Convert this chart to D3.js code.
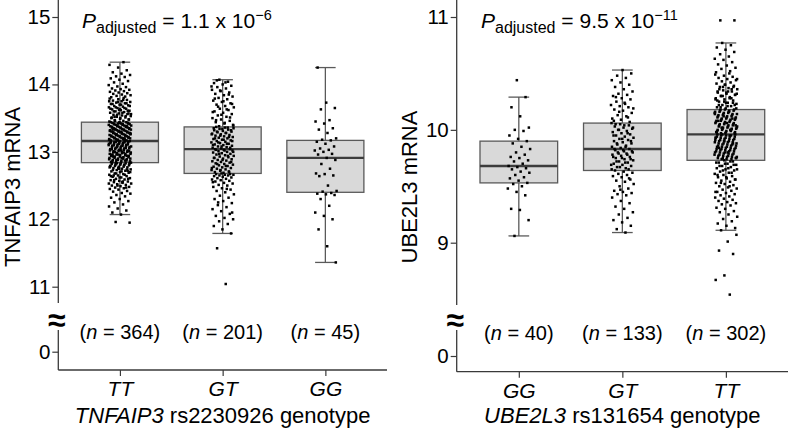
<!DOCTYPE html>
<html><head><meta charset="utf-8">
<script src="https://cdn.jsdelivr.net/npm/d3@7/dist/d3.min.js"></script>
<style>
body{margin:0;background:#fff}
svg{display:block}
text{font-family:"Liberation Sans",Arial,Helvetica,sans-serif;fill:#000}
</style>
</head><body>
<svg id="chart" width="788" height="430"></svg>
<script>
// ---------------- DATA ----------------
const leftCategories = ["TT", "GT", "GG"];
const leftCounts = [364, 201, 45];
const leftWhiskerLow = [12.07, 11.79, 11.36];
const leftQ1 = [12.84, 12.68, 12.40];
const leftMedian = [13.16, 13.04, 12.91];
const leftQ3 = [13.44, 13.37, 13.17];
const leftWhiskerHigh = [14.33, 14.07, 14.25];
const leftTicks = [11, 12, 13, 14, 15];
const leftPValue = ["1.1", "\u22126"];

const rightCategories = ["GG", "GT", "TT"];
const rightCounts = [40, 133, 302];
const rightWhiskerLow = [9.06, 9.09, 9.11];
const rightQ1 = [9.53, 9.64, 9.73];
const rightMedian = [9.68, 9.83, 9.96];
const rightQ3 = [9.90, 10.06, 10.18];
const rightWhiskerHigh = [10.29, 10.53, 10.77];
const rightTicks = [9, 10, 11];
const rightPValue = ["9.5", "\u221211"];

const leftTT = [
11.96,11.95,12.07,12.10,12.13,12.16,12.19,12.22,12.25,12.27,12.30,12.32,12.34,12.36,12.38,12.39,12.41,12.42,12.44,12.45,
12.46,12.47,12.48,12.49,12.50,12.51,12.52,12.53,12.54,12.55,12.56,12.57,12.58,12.59,12.60,12.61,12.62,12.63,12.64,12.65,
12.66,12.67,12.68,12.69,12.70,12.71,12.72,12.73,12.74,12.75,12.76,12.77,12.78,12.79,12.80,12.81,12.82,12.83,12.84,
12.47,12.50,12.53,12.56,12.58,12.60,12.62,12.64,12.66,12.68,12.70,12.71,12.73,12.74,12.76,12.77,12.78,12.79,12.80,12.81,
12.82,12.83,12.83,12.84,12.55,12.65,12.72,12.75,12.79,12.81,12.83,12.84,
12.85,12.86,12.87,12.88,12.89,12.90,12.91,12.92,12.93,12.94,12.95,12.96,12.97,12.98,12.99,13.00,13.01,13.02,13.03,13.04,
13.05,13.06,13.07,13.08,13.09,13.10,13.11,13.12,13.13,13.14,13.15,13.16,
12.85,12.86,12.87,12.88,12.89,12.90,12.91,12.92,12.93,12.94,12.95,12.96,12.97,12.98,12.99,13.00,13.01,13.02,13.03,13.04,
13.05,13.06,13.07,13.08,13.09,13.10,13.11,13.12,13.13,13.14,13.15,13.16,
12.85,12.87,12.88,12.90,12.91,12.93,12.94,12.96,12.97,12.99,13.00,13.01,13.03,13.04,13.06,13.07,13.08,13.09,13.10,13.11,
13.12,13.13,13.14,13.15,13.16,13.02,12.95,
13.17,13.18,13.19,13.20,13.21,13.22,13.23,13.24,13.25,13.26,13.27,13.28,13.29,13.30,13.31,13.32,13.33,13.34,13.35,13.36,
13.37,13.38,13.39,13.40,13.41,13.42,13.43,13.44,
13.17,13.18,13.19,13.20,13.21,13.22,13.23,13.24,13.25,13.26,13.27,13.28,13.29,13.30,13.31,13.32,13.33,13.34,13.35,13.36,
13.37,13.38,13.39,13.40,13.41,13.42,13.43,13.44,
13.17,13.18,13.19,13.20,13.21,13.22,13.23,13.24,13.25,13.26,13.27,13.28,13.29,13.30,13.31,13.32,13.33,13.34,13.35,13.36,
13.37,13.38,13.39,13.40,13.41,13.42,13.43,13.44,
13.20,13.25,13.28,13.30,13.33,13.38,13.42,
13.45,13.46,13.47,13.48,13.49,13.50,13.51,13.52,13.53,13.54,13.55,13.56,13.57,13.58,13.59,13.60,13.61,13.62,13.63,13.64,
13.65,13.66,13.67,13.68,13.69,13.70,13.71,13.72,13.73,13.74,13.75,13.76,13.77,13.78,13.79,13.80,
13.46,13.48,13.50,13.51,13.53,13.55,13.56,13.58,13.60,13.61,13.62,13.64,13.65,13.66,13.68,13.70,13.71,13.72,13.74,13.75,
13.77,13.52,13.57,13.63,
13.81,13.82,13.83,13.84,13.85,13.86,13.87,13.88,13.89,13.90,13.91,13.92,13.93,13.94,13.96,13.97,13.99,
14.01,14.03,14.05,14.07,14.09,14.11,14.12,14.14,14.16,14.18,14.21,14.25,14.29,14.33
];

const leftGT = [
11.04,11.57,11.79,11.85,11.90,11.93,11.97,12.00,12.02,12.05,12.08,12.12,12.15,12.18,12.21,12.24,12.27,12.30,12.32,12.35,
12.37,12.40,12.42,12.44,12.46,12.48,12.50,12.51,12.53,12.54,12.56,12.57,12.58,12.59,12.60,12.61,12.62,12.63,12.64,12.65,
12.65,12.66,12.66,12.67,12.67,12.68,12.55,12.45,12.25,12.10,
12.69,12.70,12.71,12.72,12.73,12.74,12.75,12.76,12.77,12.78,12.79,12.80,12.81,12.82,12.83,12.84,12.85,12.86,12.87,12.88,
12.89,12.90,12.91,12.92,12.93,12.94,12.95,12.96,12.97,12.98,12.99,13.00,13.01,13.02,13.03,13.04,
12.70,12.73,12.76,12.79,12.82,12.85,12.88,12.91,12.94,12.97,13.00,13.02,13.03,13.04,
13.05,13.06,13.07,13.08,13.09,13.10,13.11,13.12,13.13,13.14,13.15,13.16,13.17,13.18,13.19,13.20,13.21,13.22,13.23,13.24,
13.25,13.26,13.27,13.28,13.29,13.30,13.31,13.32,13.33,13.34,13.35,13.36,13.37,
13.06,13.08,13.10,13.12,13.14,13.16,13.18,13.20,13.22,13.24,13.26,13.28,13.30,13.32,13.34,13.35,13.36,
13.38,13.40,13.42,13.44,13.46,13.48,13.50,13.52,13.54,13.56,13.58,13.60,13.62,13.64,13.66,13.68,13.70,13.72,13.74,13.76,
13.78,13.80,13.82,13.84,13.86,13.88,13.90,13.92,13.94,13.96,13.98,14.00,14.02,14.04,14.07,
13.39,13.43,13.47,13.51,13.55,13.59,13.63,13.67,13.71,13.75,13.79,13.85,13.91,13.97,14.03,14.06
];

const leftGG = [
11.36,11.60,11.85,12.00,12.05,12.10,12.20,12.30,12.36,12.37,12.38,12.39,
12.41,12.42,12.50,12.64,12.65,12.67,12.68,12.75,12.82,12.88,12.91,
12.96,12.97,13.00,13.02,13.03,13.05,13.08,13.12,13.15,13.17,13.18,
13.20,13.28,13.33,13.35,13.42,13.45,13.47,13.63,13.65,13.73,14.25
];

const rightGG = [
9.06,9.20,9.29,9.30,9.42,9.45,9.48,9.50,9.52,9.53,
9.55,9.57,9.58,9.60,9.62,9.63,9.65,9.66,9.67,9.68,
9.70,9.72,9.73,9.75,9.76,9.78,9.80,9.83,9.85,9.88,
9.90,9.92,9.95,9.99,10.00,10.02,10.12,10.20,10.29,10.44
];

const rightGT = [
9.09,9.12,9.15,9.18,9.20,9.22,9.25,9.27,9.30,9.32,9.35,9.37,9.40,9.42,9.43,9.44,9.45,9.46,9.48,9.50,
9.52,9.54,9.55,9.56,9.58,9.59,9.60,9.61,9.62,9.63,9.64,9.57,9.47,
9.65,9.66,9.67,9.68,9.69,9.70,9.71,9.72,9.73,9.74,9.75,9.76,9.77,9.78,9.79,9.80,9.81,9.82,9.83,
9.65,9.67,9.69,9.71,9.72,9.74,9.75,9.76,9.78,9.79,9.80,9.81,9.82,9.83,
9.84,9.85,9.86,9.87,9.88,9.89,9.90,9.91,9.92,9.93,9.94,9.95,9.96,9.97,9.98,9.99,10.00,10.01,10.02,10.03,
10.04,10.05,10.06,
9.85,9.88,9.90,9.92,9.95,9.97,10.00,10.02,10.04,10.05,
10.07,10.09,10.10,10.12,10.13,10.15,10.17,10.18,10.20,10.21,10.22,10.23,10.25,10.27,10.28,10.30,10.31,10.32,10.34,10.36,
10.38,10.40,10.42,10.44,10.46,10.48,10.50,10.53,10.08,10.11,10.16,10.19,10.24,10.29
];

const rightTT = [
9.07,9.01,8.93,8.90,8.71,8.67,8.54,
9.11,9.13,9.15,9.17,9.19,9.21,9.23,9.25,9.27,9.28,9.30,9.31,9.33,9.34,9.35,9.36,9.37,9.38,9.39,9.40,
9.41,9.42,9.43,9.44,9.45,9.46,9.47,9.48,9.49,9.50,9.51,9.52,9.53,9.54,9.55,9.56,9.57,9.58,9.59,9.60,
9.61,9.62,9.63,9.64,9.65,9.66,9.67,9.68,9.69,9.70,9.71,9.72,9.73,
9.45,9.50,9.53,9.56,9.58,9.60,9.62,9.64,9.65,9.66,9.68,9.69,9.70,9.71,9.72,
9.74,9.75,9.76,9.77,9.78,9.79,9.80,9.81,9.82,9.83,9.84,9.85,9.86,9.87,9.88,9.89,9.90,9.91,9.92,9.93,9.94,9.95,9.96,
9.74,9.75,9.76,9.77,9.78,9.79,9.80,9.81,9.82,9.83,9.84,9.85,9.86,9.87,9.88,9.89,9.90,9.91,9.92,9.93,9.94,9.95,9.96,
9.74,9.75,9.76,9.77,9.78,9.79,9.80,9.81,9.82,9.83,9.84,9.85,9.86,9.87,9.88,9.89,9.90,9.91,9.92,9.93,9.94,9.95,9.96,
9.75,9.80,9.84,9.88,9.90,9.93,9.95,
9.97,9.98,9.99,10.00,10.01,10.02,10.03,10.04,10.05,10.06,10.07,10.08,10.09,10.10,10.11,10.12,10.13,10.14,10.15,10.16,10.17,10.18,
9.97,9.98,9.99,10.00,10.01,10.02,10.03,10.04,10.05,10.06,10.07,10.08,10.09,10.10,10.11,10.12,10.13,10.14,10.15,10.16,10.17,10.18,
9.97,9.98,9.99,10.00,10.01,10.02,10.03,10.04,10.05,10.06,10.07,10.08,10.09,10.10,10.11,10.12,10.13,10.14,10.15,10.16,10.17,10.18,
9.98,10.00,10.02,10.04,10.06,10.08,10.10,10.12,10.14,10.16,
10.97,10.97,
10.19,10.20,10.21,10.22,10.23,10.24,10.25,10.26,10.27,10.28,10.29,10.30,10.31,10.32,10.33,10.34,10.35,10.36,10.37,10.38,
10.39,10.40,10.41,10.42,10.43,10.44,10.45,10.46,10.47,10.48,10.49,10.50,
10.20,10.22,10.24,10.26,10.28,10.30,10.32,10.34,10.36,10.38,10.40,
10.51,10.52,10.54,10.55,10.57,10.58,10.60,10.62,10.63,10.65,10.67,10.69,10.71,10.73,10.75,10.77,
10.19,10.21,10.22,10.24,10.25,10.27,10.28,10.30,10.31,10.33,10.34,10.36,10.38,10.45
];

const leftPoints = [leftTT, leftGT, leftGG];
const rightPoints = [rightGG, rightGT, rightTT];

// ---------------- DRAWING ----------------
const svg = d3.select("#chart");
const AXIS = "#3a3a3a";
const BOXSTROKE = "#5a5a5a";

function drawPanel(p) {
  const g = svg.append("g");
  const x = d3.scalePoint().domain(p.cats).range([p.x0, p.x1]).padding(0.6);
  const step = x.step();
  const y = d3.scaleLinear().domain(p.tickDomain).range(p.tickRange);
  const yLow = d3.scaleLinear().domain([0, 1]).range([p.zeroY, p.zeroY - 30]);

  // y axis upper
  const ay = g.append("g").attr("transform", `translate(${p.x0},0)`)
    .call(d3.axisLeft(y).tickValues(p.ticks).tickSize(6).tickPadding(2).tickFormat(d3.format("d")));
  ay.select(".domain").remove();
  ay.append("line").attr("x1", 0).attr("x2", 0).attr("y1", p.axisTop).attr("y2", p.breakY)
    .attr("stroke", AXIS).attr("stroke-width", 1.3);
  // y axis lower
  const ay2 = g.append("g").attr("transform", `translate(${p.x0},0)`)
    .call(d3.axisLeft(yLow).tickValues([0]).tickSize(6).tickPadding(2).tickFormat(d3.format("d")));
  ay2.select(".domain").remove();
  ay2.append("line").attr("x1", 0).attr("x2", 0).attr("y1", p.lowTop).attr("y2", p.bottom)
    .attr("stroke", AXIS).attr("stroke-width", 1.3);
  [ay, ay2].forEach(a => {
    a.selectAll(".tick line").attr("stroke", AXIS).attr("stroke-width", 1.2);
    a.selectAll(".tick text").attr("font-size", 20.5).attr("fill", "#111")
      .style("font-family", '"Liberation Sans",Arial,sans-serif');
  });
  // break symbol
  g.append("text").attr("x", p.x0 - 1.5).attr("y", p.breakSymY).attr("text-anchor", "middle")
    .attr("font-size", 32).attr("font-weight", "bold").text("\u2248");

  // x axis
  const ax = g.append("g").attr("transform", `translate(0,${p.bottom})`)
    .call(d3.axisBottom(x).tickSize(6).tickPadding(8).tickSizeOuter(0));
  ax.select(".domain").attr("stroke", AXIS).attr("stroke-width", 1.3)
    .attr("d", `M${p.x0},0H${p.x1}`);
  ax.selectAll(".tick line").attr("stroke", AXIS).attr("stroke-width", 1.2);
  ax.selectAll(".tick text").attr("font-size", 21).attr("font-style", "italic").attr("fill", "#111")
    .attr("dy", 0).attr("y", 26)
    .style("font-family", '"Liberation Sans",Arial,sans-serif');

  const boxW = step * 0.75, capW = step * 0.2;
  p.cats.forEach((c, i) => {
    const cx = x(c);
    const gg = g.append("g");
    // whisker (errorbar)
    gg.append("line").attr("x1", cx).attr("x2", cx).attr("y1", y(p.wLow[i])).attr("y2", y(p.wHigh[i]))
      .attr("stroke", BOXSTROKE).attr("stroke-width", 1.3);
    [p.wLow[i], p.wHigh[i]].forEach(v => {
      gg.append("line").attr("x1", cx - capW / 2).attr("x2", cx + capW / 2).attr("y1", y(v)).attr("y2", y(v))
        .attr("stroke", BOXSTROKE).attr("stroke-width", 1.3);
    });
    // box
    gg.append("rect").attr("x", cx - boxW / 2).attr("width", boxW)
      .attr("y", y(p.q3[i])).attr("height", y(p.q1[i]) - y(p.q3[i]))
      .attr("fill", "#d9d9d9").attr("stroke", BOXSTROKE).attr("stroke-width", 1.3);
    gg.append("line").attr("x1", cx - boxW / 2).attr("x2", cx + boxW / 2)
      .attr("y1", y(p.med[i])).attr("y2", y(p.med[i]))
      .attr("stroke", "#3c3c3c").attr("stroke-width", 2.4);
    // jittered points (deterministic golden-ratio offsets)
    const jw = step * 0.11;
    gg.selectAll("rect.pt").data(p.points[i]).join("rect").attr("class", "pt")
      .attr("x", (d, k) => cx + ((((k + i * 7) * 0.6180339887 + 0.31) % 1) - 0.5) * 2 * jw - 1.25)
      .attr("y", d => y(d) - 1.25)
      .attr("width", 2.5).attr("height", 2.5).attr("fill", "#000");
    // n label
    const t = g.append("text").attr("x", cx).attr("y", p.nY).attr("text-anchor", "middle").attr("font-size", 20);
    t.append("tspan").text("(");
    t.append("tspan").attr("font-style", "italic").text("n");
    t.append("tspan").text(" = " + p.counts[i] + ")");
  });

  // axis titles
  const xt = g.append("text").attr("x", (p.x0 + p.x1) / 2).attr("y", 423).attr("text-anchor", "middle").attr("font-size", 22);
  xt.append("tspan").attr("font-style", "italic").text(p.gene);
  xt.append("tspan").text(" " + p.snp + " genotype");
  g.append("text").attr("transform", `translate(${p.yTitleX},187) rotate(-90)`)
    .attr("text-anchor", "middle").attr("font-size", 22).text(p.gene + " mRNA");

  // P annotation
  const pt = g.append("text").attr("x", p.pX).attr("y", 28).attr("font-size", 21);
  pt.append("tspan").attr("font-style", "italic").text("P");
  pt.append("tspan").attr("font-size", 16).attr("dy", 5).text("adjusted");
  pt.append("tspan").attr("dy", -5).text(" = " + p.pval[0] + " x 10");
  pt.append("tspan").attr("font-size", 14.5).attr("dy", -8).text(p.pval[1]);
}

drawPanel({
  cats: leftCategories, counts: leftCounts, points: leftPoints,
  wLow: leftWhiskerLow, q1: leftQ1, med: leftMedian, q3: leftQ3, wHigh: leftWhiskerHigh,
  ticks: leftTicks, tickDomain: [11, 15], tickRange: [286.7, 17],
  x0: 58.3, x1: 387, axisTop: 0, breakY: 303, lowTop: 330, bottom: 370, zeroY: 351.7,
  breakSymY: 331, nY: 339, yTitleX: 20, pX: 82, pval: leftPValue,
  gene: "TNFAIP3", snp: "rs2230926"
});

drawPanel({
  cats: rightCategories, counts: rightCounts, points: rightPoints,
  wLow: rightWhiskerLow, q1: rightQ1, med: rightMedian, q3: rightQ3, wHigh: rightWhiskerHigh,
  ticks: rightTicks, tickDomain: [9, 11], tickRange: [242.7, 17],
  x0: 456.7, x1: 788, axisTop: 0, breakY: 305, lowTop: 330, bottom: 371.7, zeroY: 356,
  breakSymY: 331, nY: 340, yTitleX: 417, pX: 481, pval: rightPValue,
  gene: "UBE2L3", snp: "rs131654"
});
</script>
</body></html>
